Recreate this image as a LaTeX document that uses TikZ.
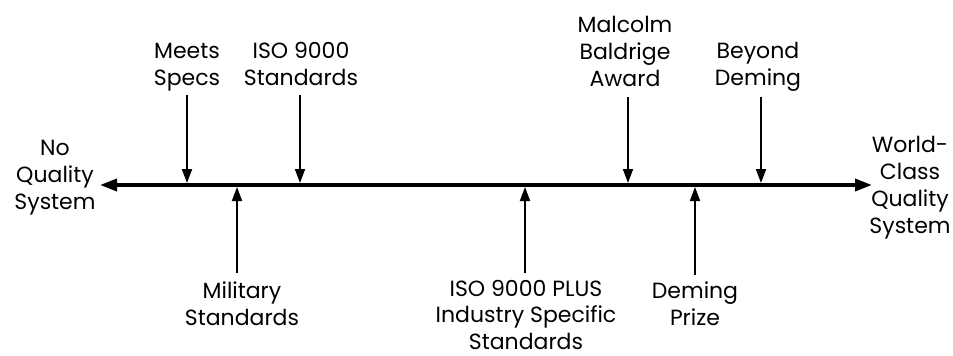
\documentclass[tikz,border=0pt]{standalone}
\usepackage{fontspec}
\setmainfont{Poppins}
\usetikzlibrary{arrows.meta}
\newcommand{\lbl}[1]{\begin{tabular}[t]{@{}c@{}}#1\end{tabular}}
\begin{document}
\begin{tikzpicture}[x=1pt,y=-1pt,
  labeltext/.style={inner sep=0pt,anchor=base,font=\fontsize{22}{27}\selectfont},
  axisline/.style={line width=3.6pt,{Triangle[length=17pt,width=12pt]}-{Triangle[length=17pt,width=12pt]}},
  marker/.style={line width=1.8pt,-{Triangle[length=14pt,width=10pt]}}]
\useasboundingbox (0,0) rectangle (953,356);
% axis
\coordinate (L) at (100,185);
\coordinate (R) at (872,185);
\draw[axisline] (L) -- (R);
% end labels
\node[labeltext] (noq) at (55,155) {\lbl{No\\Quality\\System}};
\node[labeltext] (wcq) at (910,152) {\lbl{World-\\Class\\Quality\\System}};
% upper labels
\node[labeltext] (meets) at (187,58) {\lbl{Meets\\Specs}};
\node[labeltext] (iso) at (301,58) {\lbl{ISO 9000\\Standards}};
\node[labeltext] (mba) at (625,32) {\lbl{Malcolm\\Baldrige\\Award}};
\node[labeltext] (beyond) at (758,58) {\lbl{Beyond\\Deming}};
% lower labels
\node[labeltext] (mil) at (242,298) {\lbl{Military\\Standards}};
\node[labeltext,font=\fontsize{22}{26.5}\selectfont] (isoplus) at (526,296) {\lbl{ISO 9000 PLUS\\Industry Specific\\Standards}};
\node[labeltext] (dp) at (695,298) {\lbl{Deming\\Prize}};
% arrow end points
\coordinate (meetsA) at (187,95);  \coordinate (meetsB) at (187,183);
\coordinate (isoA) at (300,95);    \coordinate (isoB) at (300,183);
\coordinate (mbaA) at (628,97);    \coordinate (mbaB) at (628,183);
\coordinate (beyA) at (761,97);    \coordinate (beyB) at (761,183);
\coordinate (milA) at (237,273);   \coordinate (milB) at (237,187);
\coordinate (ipA) at (525,273);    \coordinate (ipB) at (525,187);
\coordinate (dpA) at (695,275);    \coordinate (dpB) at (695,187);
\draw[marker] (meetsA) -- (meetsB);
\draw[marker] (isoA) -- (isoB);
\draw[marker] (mbaA) -- (mbaB);
\draw[marker] (beyA) -- (beyB);
\draw[marker] (milA) -- (milB);
\draw[marker] (ipA) -- (ipB);
\draw[marker] (dpA) -- (dpB);
\end{tikzpicture}
\end{document}
